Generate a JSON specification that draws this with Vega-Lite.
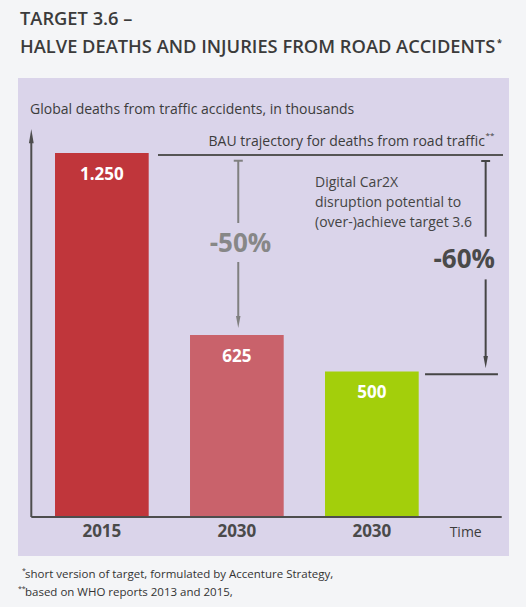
{
  "$schema": "https://vega.github.io/schema/vega-lite/v6.json",
  "width": 491,
  "height": 478,
  "autosize": "none",
  "padding": {"left": 18, "top": 78, "right": 17, "bottom": 51},
  "background": "#f4f5f7",
  "config": {
    "view": {"fill": "#dad4ea", "stroke": null},
    "font": "Open Sans",
    "text": {"font": "Open Sans"}
  },
  "data": {
    "values": [
      {"period": "2015", "year": "2015", "deaths": 1250, "label": "1.250"},
      {"period": "2030 BAU", "year": "2030", "deaths": 625, "label": "625"},
      {"period": "2030 Car2X", "year": "2030", "deaths": 500, "label": "500"}
    ]
  },
  "layer": [
    {
      "encoding": {
        "x": {
          "field": "period",
          "type": "nominal",
          "scale": {"type": "band", "domain": ["2015", "2030 BAU", "2030 Car2X"], "paddingInner": 0.306, "paddingOuter": 0.4715, "align": 0.2907},
          "axis": null
        }
      },
      "layer": [
        {
          "mark": {"type": "bar"},
          "encoding": {
            "y": {"field": "deaths", "type": "quantitative", "scale": {"domain": [-133.9, 1507.6], "nice": false, "zero": false}, "axis": null},
            "y2": {"datum": 0},
            "color": {
              "field": "period",
              "type": "nominal",
              "scale": {"domain": ["2015", "2030 BAU", "2030 Car2X"], "range": ["#c0363b", "#c9626b", "#a3cf0b"]},
              "legend": null
            }
          }
        },
        {
          "mark": {"type": "text", "dy": 21.5, "baseline": "middle", "align": "center", "fontSize": 17, "fontWeight": "bold", "color": "#ffffff"},
          "encoding": {
            "y": {"field": "deaths", "type": "quantitative", "scale": {"domain": [-133.9, 1507.6], "nice": false, "zero": false}, "axis": null},
            "text": {"field": "label"}
          }
        },
        {
          "mark": {"type": "text", "baseline": "middle", "align": "center", "fontSize": 17, "fontWeight": "bold", "color": "#4a4a4a"},
          "encoding": {
            "y": {"datum": -50.5, "type": "quantitative", "scale": {"domain": [-133.9, 1507.6], "nice": false, "zero": false}, "axis": null},
            "text": {"field": "year"}
          }
        }
      ]
    },
    {
      "data": {"values": [{}]},
      "layer": [
        {
          "mark": {"type": "text", "align": "left", "baseline": "middle", "fontSize": 18.3, "fontWeight": 600, "color": "#3b3b3b", "text": "TARGET 3.6 –"},
          "encoding": {
            "x": {"datum": -0.6063, "type": "quantitative", "scale": {"domain": [-0.6211, 3.0159], "nice": false, "zero": false}, "axis": null},
            "y": {"datum": 1706.7, "type": "quantitative", "scale": {"domain": [-133.9, 1507.6], "nice": false, "zero": false}, "axis": null}
          }
        },
        {
          "mark": {"type": "text", "align": "left", "baseline": "middle", "fontSize": 18.3, "fontWeight": 600, "color": "#3b3b3b", "text": "HALVE DEATHS AND INJURIES FROM ROAD ACCIDENTS"},
          "encoding": {
            "x": {"datum": -0.6063, "type": "quantitative", "scale": {"domain": [-0.6211, 3.0159], "nice": false, "zero": false}, "axis": null},
            "y": {"datum": 1610.6, "type": "quantitative", "scale": {"domain": [-133.9, 1507.6], "nice": false, "zero": false}, "axis": null}
          }
        },
        {
          "mark": {"type": "text", "align": "left", "baseline": "middle", "fontSize": 9, "fontWeight": "bold", "color": "#3b3b3b", "text": "*"},
          "encoding": {
            "x": {"datum": 2.927, "type": "quantitative", "scale": {"domain": [-0.6211, 3.0159], "nice": false, "zero": false}, "axis": null},
            "y": {"datum": 1627.7, "type": "quantitative", "scale": {"domain": [-133.9, 1507.6], "nice": false, "zero": false}, "axis": null}
          }
        },
        {
          "mark": {"type": "rule", "color": "#4d4d4d", "strokeWidth": 2},
          "encoding": {
            "x": {"datum": -0.5226, "type": "quantitative", "scale": {"domain": [-0.6211, 3.0159], "nice": false, "zero": false}, "axis": null},
            "y": {"datum": 0, "type": "quantitative", "scale": {"domain": [-133.9, 1507.6], "nice": false, "zero": false}, "axis": null},
            "y2": {"datum": 1296}
          }
        },
        {
          "mark": {"type": "point", "shape": "M0,-1L0.33,1L-0.33,1Z", "filled": true, "opacity": 1, "color": "#4d4d4d", "size": 210},
          "encoding": {
            "x": {"datum": -0.5226, "type": "quantitative", "scale": {"domain": [-0.6211, 3.0159], "nice": false, "zero": false}, "axis": null},
            "y": {"datum": 1308, "type": "quantitative", "scale": {"domain": [-133.9, 1507.6], "nice": false, "zero": false}, "axis": null}
          }
        },
        {
          "mark": {"type": "rule", "color": "#4d4d4d", "strokeWidth": 2},
          "encoding": {
            "x": {"datum": -0.5226, "type": "quantitative", "scale": {"domain": [-0.6211, 3.0159], "nice": false, "zero": false}, "axis": null},
            "x2": {"datum": 2.962},
            "y": {"datum": 0, "type": "quantitative", "scale": {"domain": [-133.9, 1507.6], "nice": false, "zero": false}, "axis": null}
          }
        },
        {
          "mark": {"type": "rule", "color": "#555555", "strokeWidth": 2},
          "encoding": {
            "x": {"datum": 0.4159, "type": "quantitative", "scale": {"domain": [-0.6211, 3.0159], "nice": false, "zero": false}, "axis": null},
            "x2": {"datum": 2.9715},
            "y": {"datum": 1243.1, "type": "quantitative", "scale": {"domain": [-133.9, 1507.6], "nice": false, "zero": false}, "axis": null}
          }
        },
        {
          "mark": {"type": "text", "align": "right", "baseline": "middle", "fontSize": 14, "color": "#3c3c3c", "text": "BAU trajectory for deaths from road traffic"},
          "encoding": {
            "x": {"datum": 2.838, "type": "quantitative", "scale": {"domain": [-0.6211, 3.0159], "nice": false, "zero": false}, "axis": null},
            "y": {"datum": 1289, "type": "quantitative", "scale": {"domain": [-133.9, 1507.6], "nice": false, "zero": false}, "axis": null}
          }
        },
        {
          "mark": {"type": "text", "align": "left", "baseline": "middle", "fontSize": 8, "color": "#3c3c3c", "text": "**"},
          "encoding": {
            "x": {"datum": 2.842, "type": "quantitative", "scale": {"domain": [-0.6211, 3.0159], "nice": false, "zero": false}, "axis": null},
            "y": {"datum": 1310, "type": "quantitative", "scale": {"domain": [-133.9, 1507.6], "nice": false, "zero": false}, "axis": null}
          }
        },
        {
          "mark": {"type": "rule", "color": "#808080", "strokeWidth": 2},
          "encoding": {
            "x": {"datum": 0.977, "type": "quantitative", "scale": {"domain": [-0.6211, 3.0159], "nice": false, "zero": false}, "axis": null},
            "x2": {"datum": 1.044},
            "y": {"datum": 1223.5, "type": "quantitative", "scale": {"domain": [-133.9, 1507.6], "nice": false, "zero": false}, "axis": null}
          }
        },
        {
          "mark": {"type": "rule", "color": "#808080", "strokeWidth": 2},
          "encoding": {
            "x": {"datum": 1.0104, "type": "quantitative", "scale": {"domain": [-0.6211, 3.0159], "nice": false, "zero": false}, "axis": null},
            "y": {"datum": 1223.5, "type": "quantitative", "scale": {"domain": [-133.9, 1507.6], "nice": false, "zero": false}, "axis": null},
            "y2": {"datum": 1009.6}
          }
        },
        {
          "mark": {"type": "text", "align": "center", "baseline": "middle", "fontSize": 26, "fontWeight": "bold", "color": "#878787", "text": "-50%"},
          "encoding": {
            "x": {"datum": 1.027, "type": "quantitative", "scale": {"domain": [-0.6211, 3.0159], "nice": false, "zero": false}, "axis": null},
            "y": {"datum": 937.5, "type": "quantitative", "scale": {"domain": [-133.9, 1507.6], "nice": false, "zero": false}, "axis": null}
          }
        },
        {
          "mark": {"type": "rule", "color": "#808080", "strokeWidth": 2},
          "encoding": {
            "x": {"datum": 1.0104, "type": "quantitative", "scale": {"domain": [-0.6211, 3.0159], "nice": false, "zero": false}, "axis": null},
            "y": {"datum": 875.7, "type": "quantitative", "scale": {"domain": [-133.9, 1507.6], "nice": false, "zero": false}, "axis": null},
            "y2": {"datum": 683}
          }
        },
        {
          "mark": {"type": "point", "shape": "M0,1L0.375,-1L-0.375,-1Z", "filled": true, "opacity": 1, "color": "#808080", "size": 144},
          "encoding": {
            "x": {"datum": 1.0104, "type": "quantitative", "scale": {"domain": [-0.6211, 3.0159], "nice": false, "zero": false}, "axis": null},
            "y": {"datum": 669.6, "type": "quantitative", "scale": {"domain": [-133.9, 1507.6], "nice": false, "zero": false}, "axis": null}
          }
        },
        {
          "mark": {"type": "rule", "color": "#454545", "strokeWidth": 2},
          "encoding": {
            "x": {"datum": 2.81, "type": "quantitative", "scale": {"domain": [-0.6211, 3.0159], "nice": false, "zero": false}, "axis": null},
            "x2": {"datum": 2.876},
            "y": {"datum": 1222.5, "type": "quantitative", "scale": {"domain": [-133.9, 1507.6], "nice": false, "zero": false}, "axis": null}
          }
        },
        {
          "mark": {"type": "rule", "color": "#454545", "strokeWidth": 2},
          "encoding": {
            "x": {"datum": 2.843, "type": "quantitative", "scale": {"domain": [-0.6211, 3.0159], "nice": false, "zero": false}, "axis": null},
            "y": {"datum": 1222.5, "type": "quantitative", "scale": {"domain": [-133.9, 1507.6], "nice": false, "zero": false}, "axis": null},
            "y2": {"datum": 962.5}
          }
        },
        {
          "mark": {"type": "text", "align": "center", "baseline": "middle", "fontSize": 26, "fontWeight": "bold", "color": "#4a4a4a", "text": "-60%"},
          "encoding": {
            "x": {"datum": 2.684, "type": "quantitative", "scale": {"domain": [-0.6211, 3.0159], "nice": false, "zero": false}, "axis": null},
            "y": {"datum": 882.6, "type": "quantitative", "scale": {"domain": [-133.9, 1507.6], "nice": false, "zero": false}, "axis": null}
          }
        },
        {
          "mark": {"type": "rule", "color": "#454545", "strokeWidth": 2},
          "encoding": {
            "x": {"datum": 2.843, "type": "quantitative", "scale": {"domain": [-0.6211, 3.0159], "nice": false, "zero": false}, "axis": null},
            "y": {"datum": 816, "type": "quantitative", "scale": {"domain": [-133.9, 1507.6], "nice": false, "zero": false}, "axis": null},
            "y2": {"datum": 546}
          }
        },
        {
          "mark": {"type": "point", "shape": "M0,1L0.375,-1L-0.375,-1Z", "filled": true, "opacity": 1, "color": "#454545", "size": 144},
          "encoding": {
            "x": {"datum": 2.843, "type": "quantitative", "scale": {"domain": [-0.6211, 3.0159], "nice": false, "zero": false}, "axis": null},
            "y": {"datum": 532.3, "type": "quantitative", "scale": {"domain": [-133.9, 1507.6], "nice": false, "zero": false}, "axis": null}
          }
        },
        {
          "mark": {"type": "rule", "color": "#454545", "strokeWidth": 2},
          "encoding": {
            "x": {"datum": 2.394, "type": "quantitative", "scale": {"domain": [-0.6211, 3.0159], "nice": false, "zero": false}, "axis": null},
            "x2": {"datum": 2.934},
            "y": {"datum": 490, "type": "quantitative", "scale": {"domain": [-133.9, 1507.6], "nice": false, "zero": false}, "axis": null}
          }
        },
        {
          "mark": {"type": "text", "align": "left", "baseline": "middle", "fontSize": 14, "lineHeight": 20, "color": "#444444", "text": ["Digital Car2X", "disruption potential to", "(over-)achieve target 3.6"]},
          "encoding": {
            "x": {"datum": 1.579, "type": "quantitative", "scale": {"domain": [-0.6211, 3.0159], "nice": false, "zero": false}, "axis": null},
            "y": {"datum": 1147, "type": "quantitative", "scale": {"domain": [-133.9, 1507.6], "nice": false, "zero": false}, "axis": null}
          }
        },
        {
          "mark": {"type": "text", "align": "left", "baseline": "middle", "fontSize": 14, "color": "#3c3c3c", "text": "Global deaths from traffic accidents, in thousands"},
          "encoding": {
            "x": {"datum": -0.5322, "type": "quantitative", "scale": {"domain": [-0.6211, 3.0159], "nice": false, "zero": false}, "axis": null},
            "y": {"datum": 1397.7, "type": "quantitative", "scale": {"domain": [-133.9, 1507.6], "nice": false, "zero": false}, "axis": null}
          }
        },
        {
          "mark": {"type": "text", "align": "center", "baseline": "middle", "fontSize": 14, "color": "#3c3c3c", "text": "Time"},
          "encoding": {
            "x": {"datum": 2.695, "type": "quantitative", "scale": {"domain": [-0.6211, 3.0159], "nice": false, "zero": false}, "axis": null},
            "y": {"datum": -53.9, "type": "quantitative", "scale": {"domain": [-133.9, 1507.6], "nice": false, "zero": false}, "axis": null}
          }
        },
        {
          "mark": {"type": "text", "align": "left", "baseline": "middle", "fontSize": 11.5, "color": "#333333", "text": "short version of target, formulated by Accenture Strategy,"},
          "encoding": {
            "x": {"datum": -0.5693, "type": "quantitative", "scale": {"domain": [-0.6211, 3.0159], "nice": false, "zero": false}, "axis": null},
            "y": {"datum": -199.2, "type": "quantitative", "scale": {"domain": [-133.9, 1507.6], "nice": false, "zero": false}, "axis": null}
          }
        },
        {
          "mark": {"type": "text", "align": "left", "baseline": "middle", "fontSize": 7, "color": "#333333", "text": "*"},
          "encoding": {
            "x": {"datum": -0.5915, "type": "quantitative", "scale": {"domain": [-0.6211, 3.0159], "nice": false, "zero": false}, "axis": null},
            "y": {"datum": -185.4, "type": "quantitative", "scale": {"domain": [-133.9, 1507.6], "nice": false, "zero": false}, "axis": null}
          }
        },
        {
          "mark": {"type": "text", "align": "left", "baseline": "middle", "fontSize": 11.5, "color": "#333333", "text": "based on WHO reports 2013 and 2015,"},
          "encoding": {
            "x": {"datum": -0.5693, "type": "quantitative", "scale": {"domain": [-0.6211, 3.0159], "nice": false, "zero": false}, "axis": null},
            "y": {"datum": -261, "type": "quantitative", "scale": {"domain": [-133.9, 1507.6], "nice": false, "zero": false}, "axis": null}
          }
        },
        {
          "mark": {"type": "text", "align": "left", "baseline": "middle", "fontSize": 7, "color": "#333333", "text": "**"},
          "encoding": {
            "x": {"datum": -0.6211, "type": "quantitative", "scale": {"domain": [-0.6211, 3.0159], "nice": false, "zero": false}, "axis": null},
            "y": {"datum": -247.3, "type": "quantitative", "scale": {"domain": [-133.9, 1507.6], "nice": false, "zero": false}, "axis": null}
          }
        }
      ]
    }
  ],
  "resolve": {"scale": {"x": "independent"}}
}
